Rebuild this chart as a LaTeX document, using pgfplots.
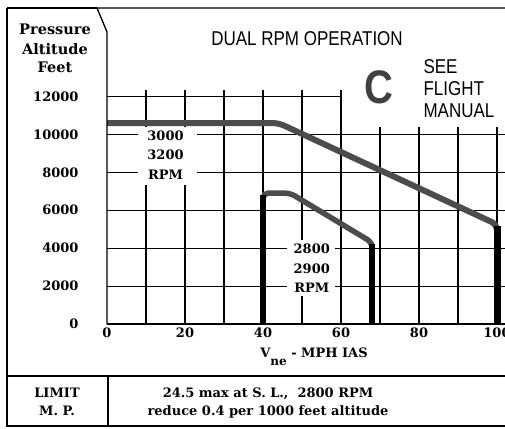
\documentclass[border=0pt]{standalone}
\usepackage{pgfplots}
\pgfplotsset{compat=1.18}
\usepackage{fontspec}
\setmainfont{DejaVu Serif}
\newfontfamily\condsans[FakeStretch=0.85]{Liberation Sans}
\begin{document}
\begin{tikzpicture}[x=1pt,y=1pt]
\useasboundingbox (0,0) rectangle (505,428);
\begin{axis}[
  at={(107pt,104pt)}, anchor=south west,
  scale only axis, width=390pt, height=227.5pt,
  xmin=0, xmax=100, ymin=0, ymax=12000,
  clip=false,
  axis line style={draw=none},
  major tick length=0pt,
  xtick={0,20,40,60,80,100},
  ytick={0,2000,4000,6000,8000,10000,12000},
  scaled ticks=false,
  /pgf/number format/assume math mode=true,
  /pgf/number format/1000 sep={},
  ticklabel style={font=\bfseries\fontsize{13}{15}\selectfont},
  yticklabel style={xshift=-25pt},
]
% grid (decoration)
\pgfplotsinvokeforeach{0,2000,4000,6000,8000,10000}{
  \draw[line width=1.1pt] (axis cs:0,#1) -- (axis cs:103,#1);
}
\draw[line width=1.1pt] (axis cs:0,12000) -- (axis cs:60,12000);
\pgfplotsinvokeforeach{10,20,30,40,50,60}{
  \draw[line width=1.1pt] (axis cs:#1,0) -- (axis cs:#1,12340);
}
\pgfplotsinvokeforeach{70,80,90,100}{
  \draw[line width=1.1pt] (axis cs:#1,0) -- (axis cs:#1,10400);
}
% label boxes
\fill[white] (axis cs:7.9,7354) rectangle (axis cs:23.1,10370);
\fill[white] (axis cs:46.2,1480) rectangle (axis cs:58.5,4440);
\node[font=\bfseries\fontsize{13}{15}\selectfont] at (axis cs:15,9950) {3000};
\node[font=\bfseries\fontsize{13}{15}\selectfont] at (axis cs:15,8900) {3200};
\node[font=\bfseries\fontsize{13}{15}\selectfont] at (axis cs:15,7850) {RPM};
\node[font=\bfseries\fontsize{13}{15}\selectfont] at (axis cs:52.5,3950) {2800};
\node[font=\bfseries\fontsize{13}{15}\selectfont] at (axis cs:52.5,2920) {2900};
\node[font=\bfseries\fontsize{13}{15}\selectfont] at (axis cs:52.5,1900) {RPM};
% 3000/3200 RPM limit
\addplot[draw=black!70, line width=6pt, rounded corners=6pt] coordinates {(0,10600) (44,10600) (100,5250) (100,0)};
\addplot[draw=black, line width=7pt] coordinates {(100,5150) (100,0)};
% 2800/2900 RPM limit
\addplot[draw=black!70, line width=5.5pt, rounded corners=5pt] coordinates {(40,0) (40,6900) (47,6900) (68,4300) (68,0)};
\addplot[draw=black, line width=6pt] coordinates {(40,0) (40,6800)};
\addplot[draw=black, line width=6pt] coordinates {(68,4200) (68,0)};
\end{axis}
% frame
\draw[line width=1.3pt] (505,420) -- (97,420) -- (107,396) -- (107,104);
\draw[line width=1.3pt] (7,420) -- (97,420);
\draw[line width=1.3pt] (7,420) -- (7,2) -- (505,2);
\draw[line width=1.3pt] (7,52) -- (505,52);
\draw[line width=1.3pt] (108,52) -- (108,2);
% header texts
\node[anchor=base, font=\bfseries\fontsize{14.5}{17}\selectfont] at (55,393) {Pressure};
\node[anchor=base, font=\bfseries\fontsize{14.5}{17}\selectfont] at (55,373) {Altitude};
\node[anchor=base, font=\bfseries\fontsize{14.5}{17}\selectfont] at (55,355) {Feet};
\node[anchor=base, font=\condsans\fontsize{20}{24}\selectfont] at (307,382) {DUAL RPM OPERATION};
\node[font=\condsans\bfseries\fontsize{47}{50}\selectfont, text=black!75] at (379,341) {C};
\node[anchor=base west, font=\condsans\fontsize{20}{24}\selectfont] at (420,354) {SEE};
\node[anchor=base west, font=\condsans\fontsize{20}{24}\selectfont] at (420,332) {FLIGHT};
\node[anchor=base west, font=\condsans\fontsize{20}{24}\selectfont] at (420,310) {MANUAL};
% x label
\node[anchor=base, font=\bfseries\fontsize{13}{15}\selectfont] at (314,71) {V\raisebox{-8pt}{\fontsize{12}{14}\selectfont ne} - MPH IAS};
% bottom row
\node[anchor=base, font=\bfseries\fontsize{13}{15}\selectfont] at (57,31) {LIMIT};
\node[anchor=base, font=\bfseries\fontsize{13}{15}\selectfont] at (57,13) {M. P.};
\node[anchor=base, font=\bfseries\fontsize{13}{15}\selectfont] at (268,31) {24.5 max at S. L., \ 2800 RPM};
\node[anchor=base, font=\bfseries\fontsize{13}{15}\selectfont] at (268,13) {reduce 0.4 per 1000 feet altitude};
\end{tikzpicture}
\end{document}
